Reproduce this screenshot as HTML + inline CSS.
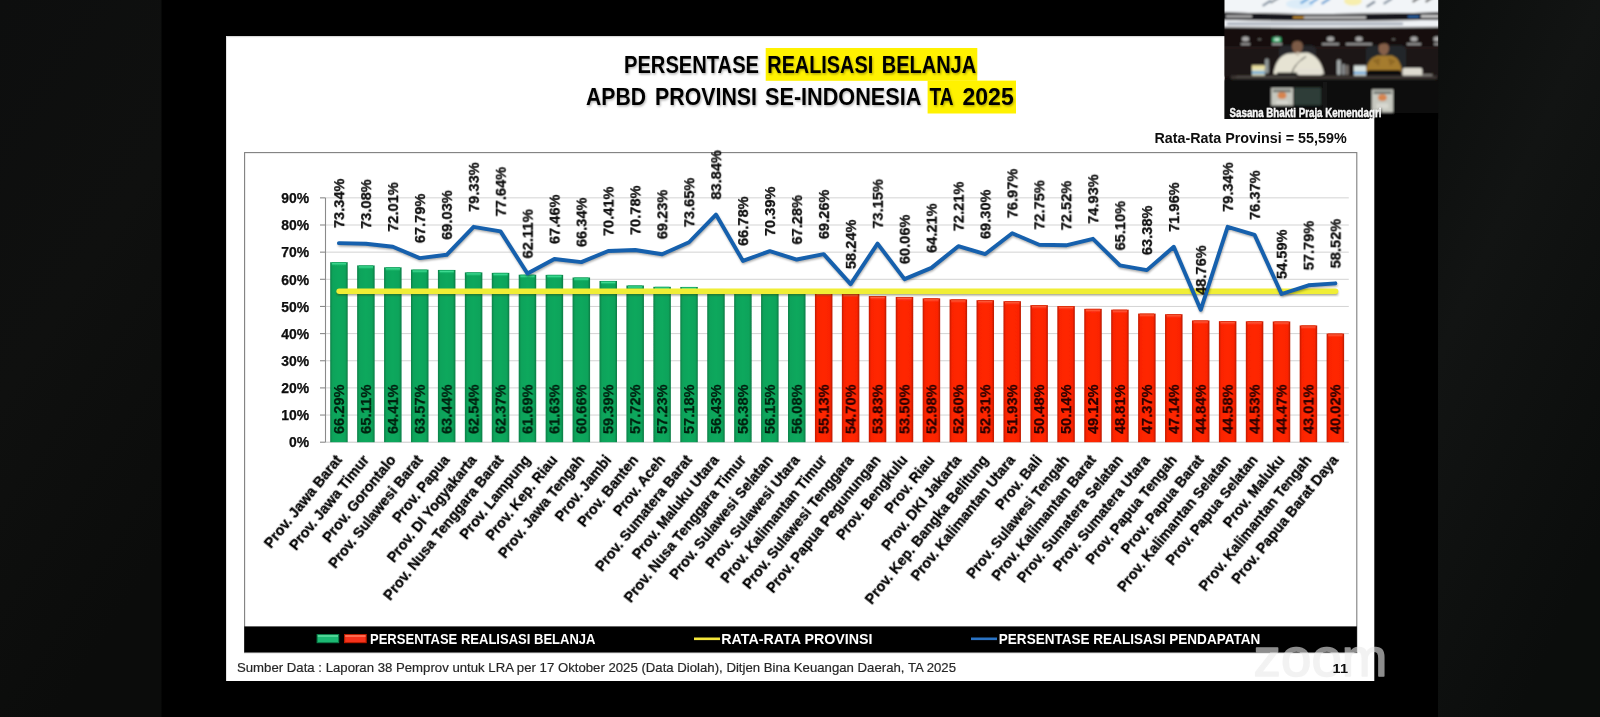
<!DOCTYPE html>
<html lang="id"><head><meta charset="utf-8"><title>Persentase Realisasi Belanja APBD Provinsi Se-Indonesia TA 2025</title>
<style>
html,body{margin:0;padding:0;background:#000;}
body{width:1600px;height:717px;overflow:hidden;position:relative;font-family:"Liberation Sans",Arial,sans-serif;}
</style></head><body>
<svg width="1600" height="717" viewBox="0 0 1600 717" style="position:absolute;left:0;top:0;display:block">
<defs>
<linearGradient id="gL" x1="0" y1="0" x2="0.35" y2="1"><stop offset="0" stop-color="#0d0e0e"/><stop offset="0.5" stop-color="#0f100f"/><stop offset="1" stop-color="#0b0c0b"/></linearGradient>
<linearGradient id="gR" x1="0" y1="0" x2="0.5" y2="1"><stop offset="0" stop-color="#0c0e0d"/><stop offset="0.4" stop-color="#121413"/><stop offset="1" stop-color="#0b0d0c"/></linearGradient>
<linearGradient id="gG" x1="0" y1="0" x2="1" y2="0"><stop offset="0" stop-color="#0a7f47"/><stop offset="0.14" stop-color="#0ba35a"/><stop offset="0.5" stop-color="#0ca85d"/><stop offset="0.86" stop-color="#0ba35a"/><stop offset="1" stop-color="#0a7a44"/></linearGradient>
<linearGradient id="gRd" x1="0" y1="0" x2="1" y2="0"><stop offset="0" stop-color="#c21a00"/><stop offset="0.14" stop-color="#fb2404"/><stop offset="0.5" stop-color="#ff2605"/><stop offset="0.86" stop-color="#fb2404"/><stop offset="1" stop-color="#b81800"/></linearGradient>
<linearGradient id="hG" x1="0" y1="0" x2="0" y2="1"><stop offset="0" stop-color="#0c9a56"/><stop offset="0.35" stop-color="#3fdc93"/><stop offset="1" stop-color="#0ca85d" stop-opacity="0"/></linearGradient>
<linearGradient id="hR" x1="0" y1="0" x2="0" y2="1"><stop offset="0" stop-color="#d02000"/><stop offset="0.35" stop-color="#ff5a3a"/><stop offset="1" stop-color="#ff2605" stop-opacity="0"/></linearGradient>
<filter id="ds" x="-5%" y="-20%" width="112%" height="150%"><feDropShadow dx="0.9" dy="1.4" stdDeviation="0.9" flood-color="#000" flood-opacity="0.32"/></filter>
<filter id="dsw" x="-5%" y="-30%" width="112%" height="170%"><feDropShadow dx="0.6" dy="0.8" stdDeviation="0.8" flood-color="#000" flood-opacity="0.7"/></filter>
<filter id="b1" x="-5%" y="-5%" width="110%" height="110%"><feGaussianBlur stdDeviation="0.9"/></filter>
<filter id="b2" x="-5%" y="-20%" width="110%" height="140%"><feGaussianBlur stdDeviation="1.2"/></filter>
<filter id="bt" x="-5%" y="-5%" width="110%" height="110%"><feGaussianBlur stdDeviation="1.1"/></filter>
<filter id="soft" x="-2%" y="-2%" width="104%" height="104%"><feGaussianBlur stdDeviation="0.35"/></filter>
<clipPath id="cpT"><rect x="1224.5" y="0" width="213.7" height="119"/></clipPath>
</defs>
<rect x="0" y="0" width="1600" height="717" fill="#000"/>
<rect x="0" y="0" width="161.5" height="717" fill="url(#gL)"/>
<rect x="1438" y="0" width="162" height="717" fill="url(#gR)"/>
<rect x="226" y="36" width="1148.3" height="645" fill="#fff"/>
<rect x="226" y="36" width="1148.3" height="1.2" fill="#d9d9d9"/>
<rect x="226" y="36" width="1" height="645" fill="#e2e2e2"/>
<g filter="url(#soft)">
<rect x="765.7" y="48" width="211.6" height="32.8" fill="#fff200"/>
<rect x="927.6" y="80.6" width="88.4" height="32.9" fill="#fff200"/>
<text x="624.00" y="73.1" font-family="Liberation Sans, Arial, sans-serif" font-weight="700" font-size="23.5" textLength="135.01" lengthAdjust="spacingAndGlyphs" fill="#060606" filter="url(#ds)">PERSENTASE</text>
<text x="767.30" y="73.1" font-family="Liberation Sans, Arial, sans-serif" font-weight="700" font-size="23.5" textLength="105.88" lengthAdjust="spacingAndGlyphs" fill="#060606" filter="url(#ds)">REALISASI</text>
<text x="881.80" y="73.1" font-family="Liberation Sans, Arial, sans-serif" font-weight="700" font-size="23.5" textLength="94.26" lengthAdjust="spacingAndGlyphs" fill="#060606" filter="url(#ds)">BELANJA</text>
<text x="586.05" y="105.0" font-family="Liberation Sans, Arial, sans-serif" font-weight="700" font-size="23.5" textLength="59.87" lengthAdjust="spacingAndGlyphs" fill="#060606" filter="url(#ds)">APBD</text>
<text x="655.05" y="105.0" font-family="Liberation Sans, Arial, sans-serif" font-weight="700" font-size="23.5" textLength="101.88" lengthAdjust="spacingAndGlyphs" fill="#060606" filter="url(#ds)">PROVINSI</text>
<text x="765.05" y="105.0" font-family="Liberation Sans, Arial, sans-serif" font-weight="700" font-size="23.5" textLength="156.21" lengthAdjust="spacingAndGlyphs" fill="#060606" filter="url(#ds)">SE-INDONESIA</text>
<text x="929.60" y="105.0" font-family="Liberation Sans, Arial, sans-serif" font-weight="700" font-size="23.5" textLength="24.08" lengthAdjust="spacingAndGlyphs" fill="#060606" filter="url(#ds)">TA</text>
<text x="962.50" y="105.0" font-family="Liberation Sans, Arial, sans-serif" font-weight="700" font-size="23.5" textLength="51.19" lengthAdjust="spacingAndGlyphs" fill="#060606" filter="url(#ds)">2025</text>
</g>
<text x="1154.4" y="143" font-family="Liberation Sans, Arial, sans-serif" font-weight="700" font-size="15.1" textLength="192.3" lengthAdjust="spacingAndGlyphs" fill="#0f0f0f" filter="url(#soft)">Rata-Rata Provinsi = 55,59%</text>
<rect x="244.6" y="152.6" width="1112.2" height="500" fill="#fff" stroke="#7f7f7f" stroke-width="1.1"/>
<g filter="url(#soft)">
<line x1="325.5" y1="415.05" x2="1348.8" y2="415.05" stroke="#d3d3d3" stroke-width="1"/>
<line x1="325.5" y1="387.90" x2="1348.8" y2="387.90" stroke="#d3d3d3" stroke-width="1"/>
<line x1="325.5" y1="360.75" x2="1348.8" y2="360.75" stroke="#d3d3d3" stroke-width="1"/>
<line x1="325.5" y1="333.60" x2="1348.8" y2="333.60" stroke="#d3d3d3" stroke-width="1"/>
<line x1="325.5" y1="306.45" x2="1348.8" y2="306.45" stroke="#d3d3d3" stroke-width="1"/>
<line x1="325.5" y1="279.30" x2="1348.8" y2="279.30" stroke="#d3d3d3" stroke-width="1"/>
<line x1="325.5" y1="252.15" x2="1348.8" y2="252.15" stroke="#d3d3d3" stroke-width="1"/>
<line x1="325.5" y1="225.00" x2="1348.8" y2="225.00" stroke="#d3d3d3" stroke-width="1"/>
<line x1="325.5" y1="197.85" x2="1348.8" y2="197.85" stroke="#d3d3d3" stroke-width="1"/>
<line x1="325.5" y1="442.2" x2="1348.8" y2="442.2" stroke="#c9c9c9" stroke-width="1"/>
<line x1="325.5" y1="197.85" x2="325.5" y2="442.2" stroke="#8a8a8a" stroke-width="1.1"/>
<line x1="320.0" y1="442.20" x2="325.5" y2="442.20" stroke="#8a8a8a" stroke-width="1.1"/>
<text x="289.09" y="447.40" font-family="Liberation Sans, Arial, sans-serif" font-weight="700" font-size="14.9" textLength="20.11" lengthAdjust="spacingAndGlyphs" fill="#0a0a0a" stroke="#0a0a0a" stroke-width="0.25">0%</text>
<line x1="320.0" y1="415.05" x2="325.5" y2="415.05" stroke="#8a8a8a" stroke-width="1.1"/>
<text x="281.35" y="420.25" font-family="Liberation Sans, Arial, sans-serif" font-weight="700" font-size="14.9" textLength="27.85" lengthAdjust="spacingAndGlyphs" fill="#0a0a0a" stroke="#0a0a0a" stroke-width="0.25">10%</text>
<line x1="320.0" y1="387.90" x2="325.5" y2="387.90" stroke="#8a8a8a" stroke-width="1.1"/>
<text x="281.35" y="393.10" font-family="Liberation Sans, Arial, sans-serif" font-weight="700" font-size="14.9" textLength="27.85" lengthAdjust="spacingAndGlyphs" fill="#0a0a0a" stroke="#0a0a0a" stroke-width="0.25">20%</text>
<line x1="320.0" y1="360.75" x2="325.5" y2="360.75" stroke="#8a8a8a" stroke-width="1.1"/>
<text x="281.35" y="365.95" font-family="Liberation Sans, Arial, sans-serif" font-weight="700" font-size="14.9" textLength="27.85" lengthAdjust="spacingAndGlyphs" fill="#0a0a0a" stroke="#0a0a0a" stroke-width="0.25">30%</text>
<line x1="320.0" y1="333.60" x2="325.5" y2="333.60" stroke="#8a8a8a" stroke-width="1.1"/>
<text x="281.35" y="338.80" font-family="Liberation Sans, Arial, sans-serif" font-weight="700" font-size="14.9" textLength="27.85" lengthAdjust="spacingAndGlyphs" fill="#0a0a0a" stroke="#0a0a0a" stroke-width="0.25">40%</text>
<line x1="320.0" y1="306.45" x2="325.5" y2="306.45" stroke="#8a8a8a" stroke-width="1.1"/>
<text x="281.35" y="311.65" font-family="Liberation Sans, Arial, sans-serif" font-weight="700" font-size="14.9" textLength="27.85" lengthAdjust="spacingAndGlyphs" fill="#0a0a0a" stroke="#0a0a0a" stroke-width="0.25">50%</text>
<line x1="320.0" y1="279.30" x2="325.5" y2="279.30" stroke="#8a8a8a" stroke-width="1.1"/>
<text x="281.35" y="284.50" font-family="Liberation Sans, Arial, sans-serif" font-weight="700" font-size="14.9" textLength="27.85" lengthAdjust="spacingAndGlyphs" fill="#0a0a0a" stroke="#0a0a0a" stroke-width="0.25">60%</text>
<line x1="320.0" y1="252.15" x2="325.5" y2="252.15" stroke="#8a8a8a" stroke-width="1.1"/>
<text x="281.35" y="257.35" font-family="Liberation Sans, Arial, sans-serif" font-weight="700" font-size="14.9" textLength="27.85" lengthAdjust="spacingAndGlyphs" fill="#0a0a0a" stroke="#0a0a0a" stroke-width="0.25">70%</text>
<line x1="320.0" y1="225.00" x2="325.5" y2="225.00" stroke="#8a8a8a" stroke-width="1.1"/>
<text x="281.35" y="230.20" font-family="Liberation Sans, Arial, sans-serif" font-weight="700" font-size="14.9" textLength="27.85" lengthAdjust="spacingAndGlyphs" fill="#0a0a0a" stroke="#0a0a0a" stroke-width="0.25">80%</text>
<line x1="320.0" y1="197.85" x2="325.5" y2="197.85" stroke="#8a8a8a" stroke-width="1.1"/>
<text x="281.35" y="203.05" font-family="Liberation Sans, Arial, sans-serif" font-weight="700" font-size="14.9" textLength="27.85" lengthAdjust="spacingAndGlyphs" fill="#0a0a0a" stroke="#0a0a0a" stroke-width="0.25">90%</text>
<rect x="330.20" y="262.22" width="17.5" height="179.98" fill="url(#gG)"/>
<rect x="331.80" y="262.22" width="14.3" height="4.2" fill="url(#hG)"/>
<rect x="357.13" y="265.43" width="17.5" height="176.77" fill="url(#gG)"/>
<rect x="358.73" y="265.43" width="14.3" height="4.2" fill="url(#hG)"/>
<rect x="384.06" y="267.33" width="17.5" height="174.87" fill="url(#gG)"/>
<rect x="385.66" y="267.33" width="14.3" height="4.2" fill="url(#hG)"/>
<rect x="410.99" y="269.61" width="17.5" height="172.59" fill="url(#gG)"/>
<rect x="412.59" y="269.61" width="14.3" height="4.2" fill="url(#hG)"/>
<rect x="437.92" y="269.96" width="17.5" height="172.24" fill="url(#gG)"/>
<rect x="439.52" y="269.96" width="14.3" height="4.2" fill="url(#hG)"/>
<rect x="464.85" y="272.40" width="17.5" height="169.80" fill="url(#gG)"/>
<rect x="466.45" y="272.40" width="14.3" height="4.2" fill="url(#hG)"/>
<rect x="491.78" y="272.87" width="17.5" height="169.33" fill="url(#gG)"/>
<rect x="493.38" y="272.87" width="14.3" height="4.2" fill="url(#hG)"/>
<rect x="518.71" y="274.71" width="17.5" height="167.49" fill="url(#gG)"/>
<rect x="520.31" y="274.71" width="14.3" height="4.2" fill="url(#hG)"/>
<rect x="545.64" y="274.87" width="17.5" height="167.33" fill="url(#gG)"/>
<rect x="547.24" y="274.87" width="14.3" height="4.2" fill="url(#hG)"/>
<rect x="572.57" y="277.51" width="17.5" height="164.69" fill="url(#gG)"/>
<rect x="574.17" y="277.51" width="14.3" height="4.2" fill="url(#hG)"/>
<rect x="599.50" y="280.96" width="17.5" height="161.24" fill="url(#gG)"/>
<rect x="601.10" y="280.96" width="14.3" height="4.2" fill="url(#hG)"/>
<rect x="626.43" y="285.49" width="17.5" height="156.71" fill="url(#gG)"/>
<rect x="628.03" y="285.49" width="14.3" height="4.2" fill="url(#hG)"/>
<rect x="653.36" y="286.82" width="17.5" height="155.38" fill="url(#gG)"/>
<rect x="654.96" y="286.82" width="14.3" height="4.2" fill="url(#hG)"/>
<rect x="680.29" y="286.96" width="17.5" height="155.24" fill="url(#gG)"/>
<rect x="681.89" y="286.96" width="14.3" height="4.2" fill="url(#hG)"/>
<rect x="707.22" y="288.99" width="17.5" height="153.21" fill="url(#gG)"/>
<rect x="708.82" y="288.99" width="14.3" height="4.2" fill="url(#hG)"/>
<rect x="734.15" y="289.13" width="17.5" height="153.07" fill="url(#gG)"/>
<rect x="735.75" y="289.13" width="14.3" height="4.2" fill="url(#hG)"/>
<rect x="761.08" y="289.75" width="17.5" height="152.45" fill="url(#gG)"/>
<rect x="762.68" y="289.75" width="14.3" height="4.2" fill="url(#hG)"/>
<rect x="788.01" y="289.94" width="17.5" height="152.26" fill="url(#gG)"/>
<rect x="789.61" y="289.94" width="14.3" height="4.2" fill="url(#hG)"/>
<rect x="814.94" y="292.52" width="17.5" height="149.68" fill="url(#gRd)"/>
<rect x="816.54" y="292.52" width="14.3" height="4.2" fill="url(#hR)"/>
<rect x="841.87" y="293.69" width="17.5" height="148.51" fill="url(#gRd)"/>
<rect x="843.47" y="293.69" width="14.3" height="4.2" fill="url(#hR)"/>
<rect x="868.80" y="296.05" width="17.5" height="146.15" fill="url(#gRd)"/>
<rect x="870.40" y="296.05" width="14.3" height="4.2" fill="url(#hR)"/>
<rect x="895.73" y="296.95" width="17.5" height="145.25" fill="url(#gRd)"/>
<rect x="897.33" y="296.95" width="14.3" height="4.2" fill="url(#hR)"/>
<rect x="922.66" y="298.36" width="17.5" height="143.84" fill="url(#gRd)"/>
<rect x="924.26" y="298.36" width="14.3" height="4.2" fill="url(#hR)"/>
<rect x="949.59" y="299.39" width="17.5" height="142.81" fill="url(#gRd)"/>
<rect x="951.19" y="299.39" width="14.3" height="4.2" fill="url(#hR)"/>
<rect x="976.52" y="300.18" width="17.5" height="142.02" fill="url(#gRd)"/>
<rect x="978.12" y="300.18" width="14.3" height="4.2" fill="url(#hR)"/>
<rect x="1003.45" y="301.21" width="17.5" height="140.99" fill="url(#gRd)"/>
<rect x="1005.05" y="301.21" width="14.3" height="4.2" fill="url(#hR)"/>
<rect x="1030.38" y="305.15" width="17.5" height="137.05" fill="url(#gRd)"/>
<rect x="1031.98" y="305.15" width="14.3" height="4.2" fill="url(#hR)"/>
<rect x="1057.31" y="306.07" width="17.5" height="136.13" fill="url(#gRd)"/>
<rect x="1058.91" y="306.07" width="14.3" height="4.2" fill="url(#hR)"/>
<rect x="1084.24" y="308.84" width="17.5" height="133.36" fill="url(#gRd)"/>
<rect x="1085.84" y="308.84" width="14.3" height="4.2" fill="url(#hR)"/>
<rect x="1111.17" y="309.68" width="17.5" height="132.52" fill="url(#gRd)"/>
<rect x="1112.77" y="309.68" width="14.3" height="4.2" fill="url(#hR)"/>
<rect x="1138.10" y="313.59" width="17.5" height="128.61" fill="url(#gRd)"/>
<rect x="1139.70" y="313.59" width="14.3" height="4.2" fill="url(#hR)"/>
<rect x="1165.03" y="314.21" width="17.5" height="127.99" fill="url(#gRd)"/>
<rect x="1166.63" y="314.21" width="14.3" height="4.2" fill="url(#hR)"/>
<rect x="1191.96" y="320.46" width="17.5" height="121.74" fill="url(#gRd)"/>
<rect x="1193.56" y="320.46" width="14.3" height="4.2" fill="url(#hR)"/>
<rect x="1218.89" y="321.17" width="17.5" height="121.03" fill="url(#gRd)"/>
<rect x="1220.49" y="321.17" width="14.3" height="4.2" fill="url(#hR)"/>
<rect x="1245.82" y="321.30" width="17.5" height="120.90" fill="url(#gRd)"/>
<rect x="1247.42" y="321.30" width="14.3" height="4.2" fill="url(#hR)"/>
<rect x="1272.75" y="321.46" width="17.5" height="120.74" fill="url(#gRd)"/>
<rect x="1274.35" y="321.46" width="14.3" height="4.2" fill="url(#hR)"/>
<rect x="1299.68" y="325.43" width="17.5" height="116.77" fill="url(#gRd)"/>
<rect x="1301.28" y="325.43" width="14.3" height="4.2" fill="url(#hR)"/>
<rect x="1326.61" y="333.55" width="17.5" height="108.65" fill="url(#gRd)"/>
<rect x="1328.21" y="333.55" width="14.3" height="4.2" fill="url(#hR)"/>
</g>
<text transform="translate(343.95,434.00) rotate(-90)" font-family="Liberation Sans, Arial, sans-serif" font-weight="700" font-size="14.8" textLength="49.5" lengthAdjust="spacingAndGlyphs" fill="#04200f" stroke="#04200f" stroke-width="0.25" filter="url(#soft)">66.29%</text>
<text transform="translate(370.88,434.00) rotate(-90)" font-family="Liberation Sans, Arial, sans-serif" font-weight="700" font-size="14.8" textLength="49.5" lengthAdjust="spacingAndGlyphs" fill="#04200f" stroke="#04200f" stroke-width="0.25" filter="url(#soft)">65.11%</text>
<text transform="translate(397.81,434.00) rotate(-90)" font-family="Liberation Sans, Arial, sans-serif" font-weight="700" font-size="14.8" textLength="49.5" lengthAdjust="spacingAndGlyphs" fill="#04200f" stroke="#04200f" stroke-width="0.25" filter="url(#soft)">64.41%</text>
<text transform="translate(424.74,434.00) rotate(-90)" font-family="Liberation Sans, Arial, sans-serif" font-weight="700" font-size="14.8" textLength="49.5" lengthAdjust="spacingAndGlyphs" fill="#04200f" stroke="#04200f" stroke-width="0.25" filter="url(#soft)">63.57%</text>
<text transform="translate(451.67,434.00) rotate(-90)" font-family="Liberation Sans, Arial, sans-serif" font-weight="700" font-size="14.8" textLength="49.5" lengthAdjust="spacingAndGlyphs" fill="#04200f" stroke="#04200f" stroke-width="0.25" filter="url(#soft)">63.44%</text>
<text transform="translate(478.60,434.00) rotate(-90)" font-family="Liberation Sans, Arial, sans-serif" font-weight="700" font-size="14.8" textLength="49.5" lengthAdjust="spacingAndGlyphs" fill="#04200f" stroke="#04200f" stroke-width="0.25" filter="url(#soft)">62.54%</text>
<text transform="translate(505.53,434.00) rotate(-90)" font-family="Liberation Sans, Arial, sans-serif" font-weight="700" font-size="14.8" textLength="49.5" lengthAdjust="spacingAndGlyphs" fill="#04200f" stroke="#04200f" stroke-width="0.25" filter="url(#soft)">62.37%</text>
<text transform="translate(532.46,434.00) rotate(-90)" font-family="Liberation Sans, Arial, sans-serif" font-weight="700" font-size="14.8" textLength="49.5" lengthAdjust="spacingAndGlyphs" fill="#04200f" stroke="#04200f" stroke-width="0.25" filter="url(#soft)">61.69%</text>
<text transform="translate(559.39,434.00) rotate(-90)" font-family="Liberation Sans, Arial, sans-serif" font-weight="700" font-size="14.8" textLength="49.5" lengthAdjust="spacingAndGlyphs" fill="#04200f" stroke="#04200f" stroke-width="0.25" filter="url(#soft)">61.63%</text>
<text transform="translate(586.32,434.00) rotate(-90)" font-family="Liberation Sans, Arial, sans-serif" font-weight="700" font-size="14.8" textLength="49.5" lengthAdjust="spacingAndGlyphs" fill="#04200f" stroke="#04200f" stroke-width="0.25" filter="url(#soft)">60.66%</text>
<text transform="translate(613.25,434.00) rotate(-90)" font-family="Liberation Sans, Arial, sans-serif" font-weight="700" font-size="14.8" textLength="49.5" lengthAdjust="spacingAndGlyphs" fill="#04200f" stroke="#04200f" stroke-width="0.25" filter="url(#soft)">59.39%</text>
<text transform="translate(640.18,434.00) rotate(-90)" font-family="Liberation Sans, Arial, sans-serif" font-weight="700" font-size="14.8" textLength="49.5" lengthAdjust="spacingAndGlyphs" fill="#04200f" stroke="#04200f" stroke-width="0.25" filter="url(#soft)">57.72%</text>
<text transform="translate(667.11,434.00) rotate(-90)" font-family="Liberation Sans, Arial, sans-serif" font-weight="700" font-size="14.8" textLength="49.5" lengthAdjust="spacingAndGlyphs" fill="#04200f" stroke="#04200f" stroke-width="0.25" filter="url(#soft)">57.23%</text>
<text transform="translate(694.04,434.00) rotate(-90)" font-family="Liberation Sans, Arial, sans-serif" font-weight="700" font-size="14.8" textLength="49.5" lengthAdjust="spacingAndGlyphs" fill="#04200f" stroke="#04200f" stroke-width="0.25" filter="url(#soft)">57.18%</text>
<text transform="translate(720.97,434.00) rotate(-90)" font-family="Liberation Sans, Arial, sans-serif" font-weight="700" font-size="14.8" textLength="49.5" lengthAdjust="spacingAndGlyphs" fill="#04200f" stroke="#04200f" stroke-width="0.25" filter="url(#soft)">56.43%</text>
<text transform="translate(747.90,434.00) rotate(-90)" font-family="Liberation Sans, Arial, sans-serif" font-weight="700" font-size="14.8" textLength="49.5" lengthAdjust="spacingAndGlyphs" fill="#04200f" stroke="#04200f" stroke-width="0.25" filter="url(#soft)">56.38%</text>
<text transform="translate(774.83,434.00) rotate(-90)" font-family="Liberation Sans, Arial, sans-serif" font-weight="700" font-size="14.8" textLength="49.5" lengthAdjust="spacingAndGlyphs" fill="#04200f" stroke="#04200f" stroke-width="0.25" filter="url(#soft)">56.15%</text>
<text transform="translate(801.76,434.00) rotate(-90)" font-family="Liberation Sans, Arial, sans-serif" font-weight="700" font-size="14.8" textLength="49.5" lengthAdjust="spacingAndGlyphs" fill="#04200f" stroke="#04200f" stroke-width="0.25" filter="url(#soft)">56.08%</text>
<text transform="translate(828.69,434.00) rotate(-90)" font-family="Liberation Sans, Arial, sans-serif" font-weight="700" font-size="14.8" textLength="49.5" lengthAdjust="spacingAndGlyphs" fill="#2a0500" stroke="#2a0500" stroke-width="0.25" filter="url(#soft)">55.13%</text>
<text transform="translate(855.62,434.00) rotate(-90)" font-family="Liberation Sans, Arial, sans-serif" font-weight="700" font-size="14.8" textLength="49.5" lengthAdjust="spacingAndGlyphs" fill="#2a0500" stroke="#2a0500" stroke-width="0.25" filter="url(#soft)">54.70%</text>
<text transform="translate(882.55,434.00) rotate(-90)" font-family="Liberation Sans, Arial, sans-serif" font-weight="700" font-size="14.8" textLength="49.5" lengthAdjust="spacingAndGlyphs" fill="#2a0500" stroke="#2a0500" stroke-width="0.25" filter="url(#soft)">53.83%</text>
<text transform="translate(909.48,434.00) rotate(-90)" font-family="Liberation Sans, Arial, sans-serif" font-weight="700" font-size="14.8" textLength="49.5" lengthAdjust="spacingAndGlyphs" fill="#2a0500" stroke="#2a0500" stroke-width="0.25" filter="url(#soft)">53.50%</text>
<text transform="translate(936.41,434.00) rotate(-90)" font-family="Liberation Sans, Arial, sans-serif" font-weight="700" font-size="14.8" textLength="49.5" lengthAdjust="spacingAndGlyphs" fill="#2a0500" stroke="#2a0500" stroke-width="0.25" filter="url(#soft)">52.98%</text>
<text transform="translate(963.34,434.00) rotate(-90)" font-family="Liberation Sans, Arial, sans-serif" font-weight="700" font-size="14.8" textLength="49.5" lengthAdjust="spacingAndGlyphs" fill="#2a0500" stroke="#2a0500" stroke-width="0.25" filter="url(#soft)">52.60%</text>
<text transform="translate(990.27,434.00) rotate(-90)" font-family="Liberation Sans, Arial, sans-serif" font-weight="700" font-size="14.8" textLength="49.5" lengthAdjust="spacingAndGlyphs" fill="#2a0500" stroke="#2a0500" stroke-width="0.25" filter="url(#soft)">52.31%</text>
<text transform="translate(1017.20,434.00) rotate(-90)" font-family="Liberation Sans, Arial, sans-serif" font-weight="700" font-size="14.8" textLength="49.5" lengthAdjust="spacingAndGlyphs" fill="#2a0500" stroke="#2a0500" stroke-width="0.25" filter="url(#soft)">51.93%</text>
<text transform="translate(1044.13,434.00) rotate(-90)" font-family="Liberation Sans, Arial, sans-serif" font-weight="700" font-size="14.8" textLength="49.5" lengthAdjust="spacingAndGlyphs" fill="#2a0500" stroke="#2a0500" stroke-width="0.25" filter="url(#soft)">50.48%</text>
<text transform="translate(1071.06,434.00) rotate(-90)" font-family="Liberation Sans, Arial, sans-serif" font-weight="700" font-size="14.8" textLength="49.5" lengthAdjust="spacingAndGlyphs" fill="#2a0500" stroke="#2a0500" stroke-width="0.25" filter="url(#soft)">50.14%</text>
<text transform="translate(1097.99,434.00) rotate(-90)" font-family="Liberation Sans, Arial, sans-serif" font-weight="700" font-size="14.8" textLength="49.5" lengthAdjust="spacingAndGlyphs" fill="#2a0500" stroke="#2a0500" stroke-width="0.25" filter="url(#soft)">49.12%</text>
<text transform="translate(1124.92,434.00) rotate(-90)" font-family="Liberation Sans, Arial, sans-serif" font-weight="700" font-size="14.8" textLength="49.5" lengthAdjust="spacingAndGlyphs" fill="#2a0500" stroke="#2a0500" stroke-width="0.25" filter="url(#soft)">48.81%</text>
<text transform="translate(1151.85,434.00) rotate(-90)" font-family="Liberation Sans, Arial, sans-serif" font-weight="700" font-size="14.8" textLength="49.5" lengthAdjust="spacingAndGlyphs" fill="#2a0500" stroke="#2a0500" stroke-width="0.25" filter="url(#soft)">47.37%</text>
<text transform="translate(1178.78,434.00) rotate(-90)" font-family="Liberation Sans, Arial, sans-serif" font-weight="700" font-size="14.8" textLength="49.5" lengthAdjust="spacingAndGlyphs" fill="#2a0500" stroke="#2a0500" stroke-width="0.25" filter="url(#soft)">47.14%</text>
<text transform="translate(1205.71,434.00) rotate(-90)" font-family="Liberation Sans, Arial, sans-serif" font-weight="700" font-size="14.8" textLength="49.5" lengthAdjust="spacingAndGlyphs" fill="#2a0500" stroke="#2a0500" stroke-width="0.25" filter="url(#soft)">44.84%</text>
<text transform="translate(1232.64,434.00) rotate(-90)" font-family="Liberation Sans, Arial, sans-serif" font-weight="700" font-size="14.8" textLength="49.5" lengthAdjust="spacingAndGlyphs" fill="#2a0500" stroke="#2a0500" stroke-width="0.25" filter="url(#soft)">44.58%</text>
<text transform="translate(1259.57,434.00) rotate(-90)" font-family="Liberation Sans, Arial, sans-serif" font-weight="700" font-size="14.8" textLength="49.5" lengthAdjust="spacingAndGlyphs" fill="#2a0500" stroke="#2a0500" stroke-width="0.25" filter="url(#soft)">44.53%</text>
<text transform="translate(1286.50,434.00) rotate(-90)" font-family="Liberation Sans, Arial, sans-serif" font-weight="700" font-size="14.8" textLength="49.5" lengthAdjust="spacingAndGlyphs" fill="#2a0500" stroke="#2a0500" stroke-width="0.25" filter="url(#soft)">44.47%</text>
<text transform="translate(1313.43,434.00) rotate(-90)" font-family="Liberation Sans, Arial, sans-serif" font-weight="700" font-size="14.8" textLength="49.5" lengthAdjust="spacingAndGlyphs" fill="#2a0500" stroke="#2a0500" stroke-width="0.25" filter="url(#soft)">43.01%</text>
<text transform="translate(1340.36,434.00) rotate(-90)" font-family="Liberation Sans, Arial, sans-serif" font-weight="700" font-size="14.8" textLength="49.5" lengthAdjust="spacingAndGlyphs" fill="#2a0500" stroke="#2a0500" stroke-width="0.25" filter="url(#soft)">40.02%</text>
<rect x="336.9" y="290.87" width="1000.9" height="4.4" fill="#3a3a00" fill-opacity="0.5" filter="url(#b2)"/>
<rect x="336.4" y="288.47" width="1001.9" height="5.6" rx="2.8" fill="#f0ee34" filter="url(#soft)"/>
<polyline points="339.55,244.68 366.48,245.39 393.41,248.29 420.34,259.75 447.27,256.38 474.20,228.42 501.13,233.01 528.06,275.17 554.99,260.65 581.92,263.69 608.85,252.64 635.78,251.63 662.71,255.84 689.64,243.84 716.57,216.17 743.50,262.49 770.43,252.69 797.36,261.13 824.29,255.76 851.22,285.68 878.15,245.20 905.08,280.74 932.01,269.47 958.94,247.75 985.87,255.65 1012.80,234.83 1039.73,246.28 1066.66,246.91 1093.59,240.37 1120.52,267.05 1147.45,271.72 1174.38,248.43 1201.31,311.42 1228.24,228.39 1255.17,236.46 1282.10,295.59 1309.03,286.90 1335.96,284.92" fill="none" stroke="#000" stroke-opacity="0.35" stroke-width="3.4" stroke-linejoin="round" stroke-linecap="round" filter="url(#b1)"/>
<polyline points="338.95,243.08 365.88,243.79 392.81,246.69 419.74,258.15 446.67,254.78 473.60,226.82 500.53,231.41 527.46,273.57 554.39,259.05 581.32,262.09 608.25,251.04 635.18,250.03 662.11,254.24 689.04,242.24 715.97,214.57 742.90,260.89 769.83,251.09 796.76,259.53 823.69,254.16 850.62,284.08 877.55,243.60 904.48,279.14 931.41,267.87 958.34,246.15 985.27,254.05 1012.20,233.23 1039.13,244.68 1066.06,245.31 1092.99,238.77 1119.92,265.45 1146.85,270.12 1173.78,246.83 1200.71,309.82 1227.64,226.79 1254.57,234.86 1281.50,293.99 1308.43,285.30 1335.36,283.32" fill="none" stroke="#1460ad" stroke-width="3.9" stroke-linejoin="round" stroke-linecap="round" filter="url(#soft)"/>
<text transform="translate(344.15,228.08) rotate(-90)" font-family="Liberation Sans, Arial, sans-serif" font-weight="700" font-size="14.8" textLength="49.5" lengthAdjust="spacingAndGlyphs" fill="#0a0a0a" stroke="#0a0a0a" stroke-width="0.25" filter="url(#soft)">73.34%</text>
<text transform="translate(371.08,228.79) rotate(-90)" font-family="Liberation Sans, Arial, sans-serif" font-weight="700" font-size="14.8" textLength="49.5" lengthAdjust="spacingAndGlyphs" fill="#0a0a0a" stroke="#0a0a0a" stroke-width="0.25" filter="url(#soft)">73.08%</text>
<text transform="translate(398.01,231.69) rotate(-90)" font-family="Liberation Sans, Arial, sans-serif" font-weight="700" font-size="14.8" textLength="49.5" lengthAdjust="spacingAndGlyphs" fill="#0a0a0a" stroke="#0a0a0a" stroke-width="0.25" filter="url(#soft)">72.01%</text>
<text transform="translate(424.94,243.15) rotate(-90)" font-family="Liberation Sans, Arial, sans-serif" font-weight="700" font-size="14.8" textLength="49.5" lengthAdjust="spacingAndGlyphs" fill="#0a0a0a" stroke="#0a0a0a" stroke-width="0.25" filter="url(#soft)">67.79%</text>
<text transform="translate(451.87,239.78) rotate(-90)" font-family="Liberation Sans, Arial, sans-serif" font-weight="700" font-size="14.8" textLength="49.5" lengthAdjust="spacingAndGlyphs" fill="#0a0a0a" stroke="#0a0a0a" stroke-width="0.25" filter="url(#soft)">69.03%</text>
<text transform="translate(478.80,211.82) rotate(-90)" font-family="Liberation Sans, Arial, sans-serif" font-weight="700" font-size="14.8" textLength="49.5" lengthAdjust="spacingAndGlyphs" fill="#0a0a0a" stroke="#0a0a0a" stroke-width="0.25" filter="url(#soft)">79.33%</text>
<text transform="translate(505.73,216.41) rotate(-90)" font-family="Liberation Sans, Arial, sans-serif" font-weight="700" font-size="14.8" textLength="49.5" lengthAdjust="spacingAndGlyphs" fill="#0a0a0a" stroke="#0a0a0a" stroke-width="0.25" filter="url(#soft)">77.64%</text>
<text transform="translate(532.66,258.57) rotate(-90)" font-family="Liberation Sans, Arial, sans-serif" font-weight="700" font-size="14.8" textLength="49.5" lengthAdjust="spacingAndGlyphs" fill="#0a0a0a" stroke="#0a0a0a" stroke-width="0.25" filter="url(#soft)">62.11%</text>
<text transform="translate(559.59,244.05) rotate(-90)" font-family="Liberation Sans, Arial, sans-serif" font-weight="700" font-size="14.8" textLength="49.5" lengthAdjust="spacingAndGlyphs" fill="#0a0a0a" stroke="#0a0a0a" stroke-width="0.25" filter="url(#soft)">67.46%</text>
<text transform="translate(586.52,247.09) rotate(-90)" font-family="Liberation Sans, Arial, sans-serif" font-weight="700" font-size="14.8" textLength="49.5" lengthAdjust="spacingAndGlyphs" fill="#0a0a0a" stroke="#0a0a0a" stroke-width="0.25" filter="url(#soft)">66.34%</text>
<text transform="translate(613.45,236.04) rotate(-90)" font-family="Liberation Sans, Arial, sans-serif" font-weight="700" font-size="14.8" textLength="49.5" lengthAdjust="spacingAndGlyphs" fill="#0a0a0a" stroke="#0a0a0a" stroke-width="0.25" filter="url(#soft)">70.41%</text>
<text transform="translate(640.38,235.03) rotate(-90)" font-family="Liberation Sans, Arial, sans-serif" font-weight="700" font-size="14.8" textLength="49.5" lengthAdjust="spacingAndGlyphs" fill="#0a0a0a" stroke="#0a0a0a" stroke-width="0.25" filter="url(#soft)">70.78%</text>
<text transform="translate(667.31,239.24) rotate(-90)" font-family="Liberation Sans, Arial, sans-serif" font-weight="700" font-size="14.8" textLength="49.5" lengthAdjust="spacingAndGlyphs" fill="#0a0a0a" stroke="#0a0a0a" stroke-width="0.25" filter="url(#soft)">69.23%</text>
<text transform="translate(694.24,227.24) rotate(-90)" font-family="Liberation Sans, Arial, sans-serif" font-weight="700" font-size="14.8" textLength="49.5" lengthAdjust="spacingAndGlyphs" fill="#0a0a0a" stroke="#0a0a0a" stroke-width="0.25" filter="url(#soft)">73.65%</text>
<text transform="translate(721.17,199.57) rotate(-90)" font-family="Liberation Sans, Arial, sans-serif" font-weight="700" font-size="14.8" textLength="49.5" lengthAdjust="spacingAndGlyphs" fill="#0a0a0a" stroke="#0a0a0a" stroke-width="0.25" filter="url(#soft)">83.84%</text>
<text transform="translate(748.10,245.89) rotate(-90)" font-family="Liberation Sans, Arial, sans-serif" font-weight="700" font-size="14.8" textLength="49.5" lengthAdjust="spacingAndGlyphs" fill="#0a0a0a" stroke="#0a0a0a" stroke-width="0.25" filter="url(#soft)">66.78%</text>
<text transform="translate(775.03,236.09) rotate(-90)" font-family="Liberation Sans, Arial, sans-serif" font-weight="700" font-size="14.8" textLength="49.5" lengthAdjust="spacingAndGlyphs" fill="#0a0a0a" stroke="#0a0a0a" stroke-width="0.25" filter="url(#soft)">70.39%</text>
<text transform="translate(801.96,244.53) rotate(-90)" font-family="Liberation Sans, Arial, sans-serif" font-weight="700" font-size="14.8" textLength="49.5" lengthAdjust="spacingAndGlyphs" fill="#0a0a0a" stroke="#0a0a0a" stroke-width="0.25" filter="url(#soft)">67.28%</text>
<text transform="translate(828.89,239.16) rotate(-90)" font-family="Liberation Sans, Arial, sans-serif" font-weight="700" font-size="14.8" textLength="49.5" lengthAdjust="spacingAndGlyphs" fill="#0a0a0a" stroke="#0a0a0a" stroke-width="0.25" filter="url(#soft)">69.26%</text>
<text transform="translate(855.82,269.08) rotate(-90)" font-family="Liberation Sans, Arial, sans-serif" font-weight="700" font-size="14.8" textLength="49.5" lengthAdjust="spacingAndGlyphs" fill="#0a0a0a" stroke="#0a0a0a" stroke-width="0.25" filter="url(#soft)">58.24%</text>
<text transform="translate(882.75,228.60) rotate(-90)" font-family="Liberation Sans, Arial, sans-serif" font-weight="700" font-size="14.8" textLength="49.5" lengthAdjust="spacingAndGlyphs" fill="#0a0a0a" stroke="#0a0a0a" stroke-width="0.25" filter="url(#soft)">73.15%</text>
<text transform="translate(909.68,264.14) rotate(-90)" font-family="Liberation Sans, Arial, sans-serif" font-weight="700" font-size="14.8" textLength="49.5" lengthAdjust="spacingAndGlyphs" fill="#0a0a0a" stroke="#0a0a0a" stroke-width="0.25" filter="url(#soft)">60.06%</text>
<text transform="translate(936.61,252.87) rotate(-90)" font-family="Liberation Sans, Arial, sans-serif" font-weight="700" font-size="14.8" textLength="49.5" lengthAdjust="spacingAndGlyphs" fill="#0a0a0a" stroke="#0a0a0a" stroke-width="0.25" filter="url(#soft)">64.21%</text>
<text transform="translate(963.54,231.15) rotate(-90)" font-family="Liberation Sans, Arial, sans-serif" font-weight="700" font-size="14.8" textLength="49.5" lengthAdjust="spacingAndGlyphs" fill="#0a0a0a" stroke="#0a0a0a" stroke-width="0.25" filter="url(#soft)">72.21%</text>
<text transform="translate(990.47,239.05) rotate(-90)" font-family="Liberation Sans, Arial, sans-serif" font-weight="700" font-size="14.8" textLength="49.5" lengthAdjust="spacingAndGlyphs" fill="#0a0a0a" stroke="#0a0a0a" stroke-width="0.25" filter="url(#soft)">69.30%</text>
<text transform="translate(1017.40,218.23) rotate(-90)" font-family="Liberation Sans, Arial, sans-serif" font-weight="700" font-size="14.8" textLength="49.5" lengthAdjust="spacingAndGlyphs" fill="#0a0a0a" stroke="#0a0a0a" stroke-width="0.25" filter="url(#soft)">76.97%</text>
<text transform="translate(1044.33,229.68) rotate(-90)" font-family="Liberation Sans, Arial, sans-serif" font-weight="700" font-size="14.8" textLength="49.5" lengthAdjust="spacingAndGlyphs" fill="#0a0a0a" stroke="#0a0a0a" stroke-width="0.25" filter="url(#soft)">72.75%</text>
<text transform="translate(1071.26,230.31) rotate(-90)" font-family="Liberation Sans, Arial, sans-serif" font-weight="700" font-size="14.8" textLength="49.5" lengthAdjust="spacingAndGlyphs" fill="#0a0a0a" stroke="#0a0a0a" stroke-width="0.25" filter="url(#soft)">72.52%</text>
<text transform="translate(1098.19,223.77) rotate(-90)" font-family="Liberation Sans, Arial, sans-serif" font-weight="700" font-size="14.8" textLength="49.5" lengthAdjust="spacingAndGlyphs" fill="#0a0a0a" stroke="#0a0a0a" stroke-width="0.25" filter="url(#soft)">74.93%</text>
<text transform="translate(1125.12,250.45) rotate(-90)" font-family="Liberation Sans, Arial, sans-serif" font-weight="700" font-size="14.8" textLength="49.5" lengthAdjust="spacingAndGlyphs" fill="#0a0a0a" stroke="#0a0a0a" stroke-width="0.25" filter="url(#soft)">65.10%</text>
<text transform="translate(1152.05,255.12) rotate(-90)" font-family="Liberation Sans, Arial, sans-serif" font-weight="700" font-size="14.8" textLength="49.5" lengthAdjust="spacingAndGlyphs" fill="#0a0a0a" stroke="#0a0a0a" stroke-width="0.25" filter="url(#soft)">63.38%</text>
<text transform="translate(1178.98,231.83) rotate(-90)" font-family="Liberation Sans, Arial, sans-serif" font-weight="700" font-size="14.8" textLength="49.5" lengthAdjust="spacingAndGlyphs" fill="#0a0a0a" stroke="#0a0a0a" stroke-width="0.25" filter="url(#soft)">71.96%</text>
<text transform="translate(1205.91,294.82) rotate(-90)" font-family="Liberation Sans, Arial, sans-serif" font-weight="700" font-size="14.8" textLength="49.5" lengthAdjust="spacingAndGlyphs" fill="#0a0a0a" stroke="#0a0a0a" stroke-width="0.25" filter="url(#soft)">48.76%</text>
<text transform="translate(1232.84,211.79) rotate(-90)" font-family="Liberation Sans, Arial, sans-serif" font-weight="700" font-size="14.8" textLength="49.5" lengthAdjust="spacingAndGlyphs" fill="#0a0a0a" stroke="#0a0a0a" stroke-width="0.25" filter="url(#soft)">79.34%</text>
<text transform="translate(1259.77,219.86) rotate(-90)" font-family="Liberation Sans, Arial, sans-serif" font-weight="700" font-size="14.8" textLength="49.5" lengthAdjust="spacingAndGlyphs" fill="#0a0a0a" stroke="#0a0a0a" stroke-width="0.25" filter="url(#soft)">76.37%</text>
<text transform="translate(1286.70,278.99) rotate(-90)" font-family="Liberation Sans, Arial, sans-serif" font-weight="700" font-size="14.8" textLength="49.5" lengthAdjust="spacingAndGlyphs" fill="#0a0a0a" stroke="#0a0a0a" stroke-width="0.25" filter="url(#soft)">54.59%</text>
<text transform="translate(1313.63,270.30) rotate(-90)" font-family="Liberation Sans, Arial, sans-serif" font-weight="700" font-size="14.8" textLength="49.5" lengthAdjust="spacingAndGlyphs" fill="#0a0a0a" stroke="#0a0a0a" stroke-width="0.25" filter="url(#soft)">57.79%</text>
<text transform="translate(1340.56,268.32) rotate(-90)" font-family="Liberation Sans, Arial, sans-serif" font-weight="700" font-size="14.8" textLength="49.5" lengthAdjust="spacingAndGlyphs" fill="#0a0a0a" stroke="#0a0a0a" stroke-width="0.25" filter="url(#soft)">58.52%</text>
<text transform="translate(342.75,460.20) rotate(-51)" x="-114.15" y="0" font-family="Liberation Sans, Arial, sans-serif" font-weight="700" font-size="15.0" textLength="114.15" lengthAdjust="spacingAndGlyphs" fill="#000" stroke="#000" stroke-width="0.28" filter="url(#soft)">Prov. Jawa Barat</text>
<text transform="translate(369.68,460.20) rotate(-51)" x="-117.05" y="0" font-family="Liberation Sans, Arial, sans-serif" font-weight="700" font-size="15.0" textLength="117.05" lengthAdjust="spacingAndGlyphs" fill="#000" stroke="#000" stroke-width="0.28" filter="url(#soft)">Prov. Jawa Timur</text>
<text transform="translate(396.61,460.20) rotate(-51)" x="-106.96" y="0" font-family="Liberation Sans, Arial, sans-serif" font-weight="700" font-size="15.0" textLength="106.96" lengthAdjust="spacingAndGlyphs" fill="#000" stroke="#000" stroke-width="0.28" filter="url(#soft)">Prov. Gorontalo</text>
<text transform="translate(423.54,460.20) rotate(-51)" x="-140.36" y="0" font-family="Liberation Sans, Arial, sans-serif" font-weight="700" font-size="15.0" textLength="140.36" lengthAdjust="spacingAndGlyphs" fill="#000" stroke="#000" stroke-width="0.28" filter="url(#soft)">Prov. Sulawesi Barat</text>
<text transform="translate(450.47,460.20) rotate(-51)" x="-81.56" y="0" font-family="Liberation Sans, Arial, sans-serif" font-weight="700" font-size="15.0" textLength="81.56" lengthAdjust="spacingAndGlyphs" fill="#000" stroke="#000" stroke-width="0.28" filter="url(#soft)">Prov. Papua</text>
<text transform="translate(477.40,460.20) rotate(-51)" x="-132.69" y="0" font-family="Liberation Sans, Arial, sans-serif" font-weight="700" font-size="15.0" textLength="132.69" lengthAdjust="spacingAndGlyphs" fill="#000" stroke="#000" stroke-width="0.28" filter="url(#soft)">Prov. DI Yogyakarta</text>
<text transform="translate(504.33,460.20) rotate(-51)" x="-181.39" y="0" font-family="Liberation Sans, Arial, sans-serif" font-weight="700" font-size="15.0" textLength="181.39" lengthAdjust="spacingAndGlyphs" fill="#000" stroke="#000" stroke-width="0.28" filter="url(#soft)">Prov. Nusa Tenggara Barat</text>
<text transform="translate(531.26,460.20) rotate(-51)" x="-102.98" y="0" font-family="Liberation Sans, Arial, sans-serif" font-weight="700" font-size="15.0" textLength="102.98" lengthAdjust="spacingAndGlyphs" fill="#000" stroke="#000" stroke-width="0.28" filter="url(#soft)">Prov. Lampung</text>
<text transform="translate(558.19,460.20) rotate(-51)" x="-104.59" y="0" font-family="Liberation Sans, Arial, sans-serif" font-weight="700" font-size="15.0" textLength="104.59" lengthAdjust="spacingAndGlyphs" fill="#000" stroke="#000" stroke-width="0.28" filter="url(#soft)">Prov. Kep. Riau</text>
<text transform="translate(585.12,460.20) rotate(-51)" x="-127.37" y="0" font-family="Liberation Sans, Arial, sans-serif" font-weight="700" font-size="15.0" textLength="127.37" lengthAdjust="spacingAndGlyphs" fill="#000" stroke="#000" stroke-width="0.28" filter="url(#soft)">Prov. Jawa Tengah</text>
<text transform="translate(612.05,460.20) rotate(-51)" x="-79.98" y="0" font-family="Liberation Sans, Arial, sans-serif" font-weight="700" font-size="15.0" textLength="79.98" lengthAdjust="spacingAndGlyphs" fill="#000" stroke="#000" stroke-width="0.28" filter="url(#soft)">Prov. Jambi</text>
<text transform="translate(638.98,460.20) rotate(-51)" x="-87.11" y="0" font-family="Liberation Sans, Arial, sans-serif" font-weight="700" font-size="15.0" textLength="87.11" lengthAdjust="spacingAndGlyphs" fill="#000" stroke="#000" stroke-width="0.28" filter="url(#soft)">Prov. Banten</text>
<text transform="translate(665.91,460.20) rotate(-51)" x="-73.09" y="0" font-family="Liberation Sans, Arial, sans-serif" font-weight="700" font-size="15.0" textLength="73.09" lengthAdjust="spacingAndGlyphs" fill="#000" stroke="#000" stroke-width="0.28" filter="url(#soft)">Prov. Aceh</text>
<text transform="translate(692.84,460.20) rotate(-51)" x="-144.33" y="0" font-family="Liberation Sans, Arial, sans-serif" font-weight="700" font-size="15.0" textLength="144.33" lengthAdjust="spacingAndGlyphs" fill="#000" stroke="#000" stroke-width="0.28" filter="url(#soft)">Prov. Sumatera Barat</text>
<text transform="translate(719.77,460.20) rotate(-51)" x="-128.43" y="0" font-family="Liberation Sans, Arial, sans-serif" font-weight="700" font-size="15.0" textLength="128.43" lengthAdjust="spacingAndGlyphs" fill="#000" stroke="#000" stroke-width="0.28" filter="url(#soft)">Prov. Maluku Utara</text>
<text transform="translate(746.70,460.20) rotate(-51)" x="-184.29" y="0" font-family="Liberation Sans, Arial, sans-serif" font-weight="700" font-size="15.0" textLength="184.29" lengthAdjust="spacingAndGlyphs" fill="#000" stroke="#000" stroke-width="0.28" filter="url(#soft)">Prov. Nusa Tenggara Timur</text>
<text transform="translate(773.63,460.20) rotate(-51)" x="-154.67" y="0" font-family="Liberation Sans, Arial, sans-serif" font-weight="700" font-size="15.0" textLength="154.67" lengthAdjust="spacingAndGlyphs" fill="#000" stroke="#000" stroke-width="0.28" filter="url(#soft)">Prov. Sulawesi Selatan</text>
<text transform="translate(800.56,460.20) rotate(-51)" x="-140.36" y="0" font-family="Liberation Sans, Arial, sans-serif" font-weight="700" font-size="15.0" textLength="140.36" lengthAdjust="spacingAndGlyphs" fill="#000" stroke="#000" stroke-width="0.28" filter="url(#soft)">Prov. Sulawesi Utara</text>
<text transform="translate(827.49,460.20) rotate(-51)" x="-159.14" y="0" font-family="Liberation Sans, Arial, sans-serif" font-weight="700" font-size="15.0" textLength="159.14" lengthAdjust="spacingAndGlyphs" fill="#000" stroke="#000" stroke-width="0.28" filter="url(#soft)">Prov. Kalimantan Timur</text>
<text transform="translate(854.42,460.20) rotate(-51)" x="-167.10" y="0" font-family="Liberation Sans, Arial, sans-serif" font-weight="700" font-size="15.0" textLength="167.10" lengthAdjust="spacingAndGlyphs" fill="#000" stroke="#000" stroke-width="0.28" filter="url(#soft)">Prov. Sulawesi Tenggara</text>
<text transform="translate(881.35,460.20) rotate(-51)" x="-172.10" y="0" font-family="Liberation Sans, Arial, sans-serif" font-weight="700" font-size="15.0" textLength="172.10" lengthAdjust="spacingAndGlyphs" fill="#000" stroke="#000" stroke-width="0.28" filter="url(#soft)">Prov. Papua Pegunungan</text>
<text transform="translate(908.28,460.20) rotate(-51)" x="-103.79" y="0" font-family="Liberation Sans, Arial, sans-serif" font-weight="700" font-size="15.0" textLength="103.79" lengthAdjust="spacingAndGlyphs" fill="#000" stroke="#000" stroke-width="0.28" filter="url(#soft)">Prov. Bengkulu</text>
<text transform="translate(935.21,460.20) rotate(-51)" x="-69.64" y="0" font-family="Liberation Sans, Arial, sans-serif" font-weight="700" font-size="15.0" textLength="69.64" lengthAdjust="spacingAndGlyphs" fill="#000" stroke="#000" stroke-width="0.28" filter="url(#soft)">Prov. Riau</text>
<text transform="translate(962.14,460.20) rotate(-51)" x="-117.33" y="0" font-family="Liberation Sans, Arial, sans-serif" font-weight="700" font-size="15.0" textLength="117.33" lengthAdjust="spacingAndGlyphs" fill="#000" stroke="#000" stroke-width="0.28" filter="url(#soft)">Prov. DKI Jakarta</text>
<text transform="translate(989.07,460.20) rotate(-51)" x="-186.40" y="0" font-family="Liberation Sans, Arial, sans-serif" font-weight="700" font-size="15.0" textLength="186.40" lengthAdjust="spacingAndGlyphs" fill="#000" stroke="#000" stroke-width="0.28" filter="url(#soft)">Prov. Kep. Bangka Belitung</text>
<text transform="translate(1016.00,460.20) rotate(-51)" x="-156.24" y="0" font-family="Liberation Sans, Arial, sans-serif" font-weight="700" font-size="15.0" textLength="156.24" lengthAdjust="spacingAndGlyphs" fill="#000" stroke="#000" stroke-width="0.28" filter="url(#soft)">Prov. Kalimantan Utara</text>
<text transform="translate(1042.93,460.20) rotate(-51)" x="-64.88" y="0" font-family="Liberation Sans, Arial, sans-serif" font-weight="700" font-size="15.0" textLength="64.88" lengthAdjust="spacingAndGlyphs" fill="#000" stroke="#000" stroke-width="0.28" filter="url(#soft)">Prov. Bali</text>
<text transform="translate(1069.86,460.20) rotate(-51)" x="-153.58" y="0" font-family="Liberation Sans, Arial, sans-serif" font-weight="700" font-size="15.0" textLength="153.58" lengthAdjust="spacingAndGlyphs" fill="#000" stroke="#000" stroke-width="0.28" filter="url(#soft)">Prov. Sulawesi Tengah</text>
<text transform="translate(1096.79,460.20) rotate(-51)" x="-156.24" y="0" font-family="Liberation Sans, Arial, sans-serif" font-weight="700" font-size="15.0" textLength="156.24" lengthAdjust="spacingAndGlyphs" fill="#000" stroke="#000" stroke-width="0.28" filter="url(#soft)">Prov. Kalimantan Barat</text>
<text transform="translate(1123.72,460.20) rotate(-51)" x="-158.64" y="0" font-family="Liberation Sans, Arial, sans-serif" font-weight="700" font-size="15.0" textLength="158.64" lengthAdjust="spacingAndGlyphs" fill="#000" stroke="#000" stroke-width="0.28" filter="url(#soft)">Prov. Sumatera Selatan</text>
<text transform="translate(1150.65,460.20) rotate(-51)" x="-144.33" y="0" font-family="Liberation Sans, Arial, sans-serif" font-weight="700" font-size="15.0" textLength="144.33" lengthAdjust="spacingAndGlyphs" fill="#000" stroke="#000" stroke-width="0.28" filter="url(#soft)">Prov. Sumatera Utara</text>
<text transform="translate(1177.58,460.20) rotate(-51)" x="-135.30" y="0" font-family="Liberation Sans, Arial, sans-serif" font-weight="700" font-size="15.0" textLength="135.30" lengthAdjust="spacingAndGlyphs" fill="#000" stroke="#000" stroke-width="0.28" filter="url(#soft)">Prov. Papua Tengah</text>
<text transform="translate(1204.51,460.20) rotate(-51)" x="-122.08" y="0" font-family="Liberation Sans, Arial, sans-serif" font-weight="700" font-size="15.0" textLength="122.08" lengthAdjust="spacingAndGlyphs" fill="#000" stroke="#000" stroke-width="0.28" filter="url(#soft)">Prov. Papua Barat</text>
<text transform="translate(1231.44,460.20) rotate(-51)" x="-170.54" y="0" font-family="Liberation Sans, Arial, sans-serif" font-weight="700" font-size="15.0" textLength="170.54" lengthAdjust="spacingAndGlyphs" fill="#000" stroke="#000" stroke-width="0.28" filter="url(#soft)">Prov. Kalimantan Selatan</text>
<text transform="translate(1258.37,460.20) rotate(-51)" x="-136.39" y="0" font-family="Liberation Sans, Arial, sans-serif" font-weight="700" font-size="15.0" textLength="136.39" lengthAdjust="spacingAndGlyphs" fill="#000" stroke="#000" stroke-width="0.28" filter="url(#soft)">Prov. Papua Selatan</text>
<text transform="translate(1285.30,460.20) rotate(-51)" x="-87.91" y="0" font-family="Liberation Sans, Arial, sans-serif" font-weight="700" font-size="15.0" textLength="87.91" lengthAdjust="spacingAndGlyphs" fill="#000" stroke="#000" stroke-width="0.28" filter="url(#soft)">Prov. Maluku</text>
<text transform="translate(1312.23,460.20) rotate(-51)" x="-169.46" y="0" font-family="Liberation Sans, Arial, sans-serif" font-weight="700" font-size="15.0" textLength="169.46" lengthAdjust="spacingAndGlyphs" fill="#000" stroke="#000" stroke-width="0.28" filter="url(#soft)">Prov. Kalimantan Tengah</text>
<text transform="translate(1339.16,460.20) rotate(-51)" x="-160.23" y="0" font-family="Liberation Sans, Arial, sans-serif" font-weight="700" font-size="15.0" textLength="160.23" lengthAdjust="spacingAndGlyphs" fill="#000" stroke="#000" stroke-width="0.28" filter="url(#soft)">Prov. Papua Barat Daya</text>
<rect x="244.3" y="626.4" width="1112.6" height="25.8" fill="#000"/>
<g filter="url(#soft)">
<rect x="316.6" y="634" width="22.6" height="9.2" fill="#0b7d48"/><rect x="317.8" y="635" width="20.2" height="7" fill="#1fb873"/><rect x="317.8" y="635" width="20.2" height="2" fill="#4fd596"/>
<rect x="344" y="634" width="22.8" height="9.2" fill="#b81c06"/><rect x="345.2" y="635" width="20.4" height="7" fill="#f5321a"/><rect x="345.2" y="635" width="20.4" height="2" fill="#ff6a50"/>
<line x1="694" y1="638.8" x2="720" y2="638.8" stroke="#f4e63a" stroke-width="2.6"/>
<line x1="971" y1="638.8" x2="997" y2="638.8" stroke="#2a73c4" stroke-width="2.6"/>
<text x="370" y="643.8" font-family="Liberation Sans, Arial, sans-serif" font-weight="700" font-size="15.1" textLength="225.5" lengthAdjust="spacingAndGlyphs" fill="#fff">PERSENTASE REALISASI BELANJA</text>
<text x="721.3" y="643.8" font-family="Liberation Sans, Arial, sans-serif" font-weight="700" font-size="15.1" textLength="151.2" lengthAdjust="spacingAndGlyphs" fill="#fff">RATA-RATA PROVINSI</text>
<text x="998.8" y="643.8" font-family="Liberation Sans, Arial, sans-serif" font-weight="700" font-size="15.1" textLength="261.5" lengthAdjust="spacingAndGlyphs" fill="#fff">PERSENTASE REALISASI PENDAPATAN</text>
</g>
<text x="237" y="672" font-family="Liberation Sans, Arial, sans-serif" font-size="13.2" textLength="719" lengthAdjust="spacingAndGlyphs" fill="#262626" stroke="#262626" stroke-width="0.18" filter="url(#soft)">Sumber Data : Laporan 38 Pemprov untuk LRA per 17 Oktober 2025 (Data Diolah), Ditjen Bina Keuangan Daerah, TA 2025</text>
<g opacity="0.6" filter="url(#soft)"><text x="1253.60" y="676.3" font-family="Liberation Sans, Arial, sans-serif" font-weight="400" font-size="53.5" textLength="133.82" lengthAdjust="spacingAndGlyphs" fill="#ebebeb" stroke="#ebebeb" stroke-width="1.5" stroke-linejoin="round">zoom</text></g>
<text x="1332.6" y="672.9" font-family="Liberation Sans, Arial, sans-serif" font-weight="700" font-size="12.3" textLength="15.4" lengthAdjust="spacingAndGlyphs" fill="#111" filter="url(#soft)">11</text>
<g clip-path="url(#cpT)">
<rect x="1224.5" y="0" width="214" height="119.2" fill="#17110e"/>
<g filter="url(#bt)">
<path d="M1222 -3 H1441 V12.6 Q1331 15.4 1222 12.6 Z" fill="#f2f5f8"/>
<ellipse cx="1353" cy="1" rx="9" ry="4.5" fill="#f7ec9a" opacity="0.8"/>
<ellipse cx="1300" cy="4" rx="14" ry="5" fill="#d6eaf8" opacity="0.8"/>
<rect x="1262" y="5" width="10" height="2.2" fill="#6f7f90" transform="rotate(-33 1262 5)" opacity="0.85"/>
<rect x="1270" y="2" width="10" height="2.2" fill="#7d8790" transform="rotate(-33 1270 2)" opacity="0.85"/>
<rect x="1300" y="2.5" width="10" height="2.2" fill="#4f9ad6" transform="rotate(-33 1300 2.5)" opacity="0.85"/>
<rect x="1309" y="3" width="10" height="2.2" fill="#5aa0da" transform="rotate(-33 1309 3)" opacity="0.85"/>
<rect x="1321" y="3" width="10" height="2.2" fill="#4f92cc" transform="rotate(-33 1321 3)" opacity="0.85"/>
<rect x="1366" y="6" width="10" height="2.2" fill="#5f6f80" transform="rotate(-33 1366 6)" opacity="0.85"/>
<rect x="1383" y="3" width="10" height="2.2" fill="#6f7f90" transform="rotate(-33 1383 3)" opacity="0.85"/>
<rect x="1412" y="1" width="10" height="2.2" fill="#444" transform="rotate(-33 1412 1)" opacity="0.85"/>
<rect x="1425" y="1" width="10" height="2.2" fill="#444" transform="rotate(-33 1425 1)" opacity="0.85"/>
<path d="M1222 12.6 Q1331 15.4 1441 12.6 V19.8 Q1331 22 1222 19.8 Z" fill="#19191c"/>
<rect x="1226" y="15.2" width="26" height="2.4" fill="#b9b9b9"/><rect x="1293" y="16.6" width="11" height="1.6" fill="#e9a83a"/><rect x="1304" y="16.2" width="62" height="2.6" fill="#c4c4c4"/><rect x="1408" y="15.8" width="11" height="1.7" fill="#2f74c8"/><rect x="1421" y="15" width="18" height="2.7" fill="#cfcfcf"/>
<path d="M1222 19.8 Q1331 22 1441 19.8 V27.2 Q1331 28.8 1222 27.2 Z" fill="#eef1f4"/>
<rect x="1227" y="22.7" width="176" height="2.3" fill="#8590a0" opacity="0.8"/>
<rect x="1222" y="27.8" width="220" height="20" fill="#130f0d"/>
<rect x="1241" y="43.2" width="9" height="1.9" fill="#cfcfcf" opacity="0.75"/>
<ellipse cx="1245.5" cy="39" rx="3.6" ry="2.5" fill="#dcdcdc" opacity="0.75"/>
<rect x="1272" y="43.2" width="10" height="1.9" fill="#cfcfcf" opacity="0.75"/>
<ellipse cx="1277.0" cy="39" rx="3.6" ry="2.5" fill="#dcdcdc" opacity="0.75"/>
<rect x="1322" y="43.2" width="17" height="1.9" fill="#cfcfcf" opacity="0.75"/>
<ellipse cx="1330.5" cy="39" rx="3.6" ry="2.5" fill="#dcdcdc" opacity="0.75"/>
<rect x="1346" y="43.2" width="26" height="1.9" fill="#cfcfcf" opacity="0.75"/>
<ellipse cx="1359.0" cy="39" rx="3.6" ry="2.5" fill="#dcdcdc" opacity="0.75"/>
<rect x="1407" y="43.2" width="14" height="1.9" fill="#cfcfcf" opacity="0.75"/>
<ellipse cx="1414.0" cy="39" rx="3.6" ry="2.5" fill="#dcdcdc" opacity="0.75"/>
<rect x="1434" y="43.2" width="6" height="1.9" fill="#cfcfcf" opacity="0.75"/>
<ellipse cx="1437.0" cy="39" rx="3.6" ry="2.5" fill="#dcdcdc" opacity="0.75"/>
<rect x="1258" y="38.6" width="3" height="1.4" fill="#aaa" opacity="0.6"/><rect x="1392" y="38.6" width="3" height="1.4" fill="#aaa" opacity="0.6"/>
<rect x="1272.3" y="37.4" width="9" height="4.8" fill="#2fb06c"/><rect x="1274.5" y="38.6" width="4.5" height="2" fill="#e8f5ee"/>
<rect x="1222" y="47" width="220" height="30" fill="#1d1512"/>
<rect x="1222" y="47" width="220" height="1.2" fill="#2a211c"/>
<rect x="1279" y="45.5" width="37" height="24" rx="5" fill="#25262a"/>
<rect x="1366" y="45.5" width="40" height="25" rx="5" fill="#23262b"/>
<path d="M1273.5 74 Q1275.5 57 1288 53.5 L1307 52.5 Q1320.5 56 1324 74 Z" fill="#e6e3d3"/>
<ellipse cx="1297.4" cy="46.5" rx="5.4" ry="7.6" fill="#7d5b47"/>
<path d="M1290.6 45 Q1290 36.2 1297.6 36.2 Q1305 36.2 1304.2 45 Q1301 40.5 1297 41 Q1293 41.2 1290.6 45 Z" fill="#14100e"/>
<path d="M1292 73 Q1294 64 1306 56.5" stroke="#1f1f1f" stroke-width="1" fill="none"/>
<rect x="1296.5" y="52" width="2.4" height="4" fill="#c9c3b3"/>
<path d="M1365.5 71.5 Q1367.5 58.5 1377.5 55.5 L1392 55.5 Q1400.5 58.5 1402 71.5 Z" fill="#a57c2f"/>
<path d="M1372 60 L1380 58 L1379 66 Z M1388 58 L1396 61 L1390 66 Z" fill="#8a6424" opacity="0.8"/>
<ellipse cx="1383.8" cy="48" rx="5.2" ry="7.2" fill="#86604a"/>
<path d="M1377.6 46.5 Q1377 39.2 1384 39.2 Q1390.6 39.2 1390 46.5 Q1387 43 1383.6 43.4 Q1380 43.4 1377.6 46.5 Z" fill="#14100e"/>
<rect x="1252" y="65.5" width="12.8" height="11" fill="#dfe0c2"/><rect x="1252" y="65.5" width="12.8" height="3" fill="#ecdf9a"/><rect x="1252" y="71.5" width="12.8" height="2.2" fill="#5b9fd6"/>
<rect x="1354" y="65.5" width="12" height="11" fill="#d9e2df"/><rect x="1354" y="71.8" width="12" height="2.2" fill="#5b9fd6"/>
<rect x="1265" y="58.5" width="3.8" height="15" rx="1.6" fill="#8f9696"/>
<rect x="1337" y="59.5" width="3.8" height="15.5" rx="1.6" fill="#a3a9a9"/><rect x="1342" y="64" width="3" height="11" rx="1" fill="#85888a"/><rect x="1345.6" y="65" width="3" height="10" rx="1" fill="#7a7470"/>
<rect x="1297" y="68.5" width="26" height="6.6" rx="2" fill="#e3e0d4"/>
<rect x="1402.4" y="68" width="20" height="8.4" rx="2" fill="#dedbd0"/><rect x="1422" y="74.4" width="10.5" height="3" fill="#b5b3ad"/>
<rect x="1367.5" y="70" width="33" height="6.4" rx="1.5" fill="#0f0f10"/>
<rect x="1277" y="72.6" width="20" height="3" fill="#141414"/>
<path d="M1230 77.6 L1438 77.6 L1441 80 L1441 121 L1222 121 L1222 80 Z" fill="#09090a"/>
<rect x="1231" y="75.6" width="206" height="3.4" fill="#3a3633"/>
<rect x="1236" y="76" width="60" height="1.4" fill="#55504b" opacity="0.8"/>
<rect x="1294" y="87.5" width="27" height="17.5" fill="#34423e" opacity="0.9"/>
<rect x="1324" y="82" width="2" height="30" fill="#1c1c1c"/>
<rect x="1271.2" y="87.8" width="21.8" height="17.8" fill="#c6c8bf"/><ellipse cx="1282" cy="95.4" rx="4.4" ry="3.4" fill="#d9783a" opacity="0.85"/><rect x="1273" y="89.6" width="18" height="2.6" fill="#6d716c"/><rect x="1276" y="101" width="12" height="3" fill="#d8d8d0"/>
<rect x="1371.8" y="89.4" width="21.4" height="23" fill="#c6c8bf"/><ellipse cx="1382.4" cy="97.6" rx="4.4" ry="3.4" fill="#d9783a" opacity="0.85"/><rect x="1373.6" y="91.4" width="18" height="2.6" fill="#6d716c"/><rect x="1376.4" y="103.5" width="12" height="5" fill="#d8d8d0"/>
<rect x="1374.5" y="113" width="68" height="8" fill="#030303"/>
</g>
<text x="1229.60" y="116.9" font-family="Liberation Sans, Arial, sans-serif" font-weight="700" font-size="12.3" textLength="151.78" lengthAdjust="spacingAndGlyphs" fill="#f6f6f6" stroke="#f6f6f6" stroke-width="0.3" filter="url(#dsw)">Sasana Bhakti Praja Kemendagri</text>
</g>
</svg>
</body></html>
